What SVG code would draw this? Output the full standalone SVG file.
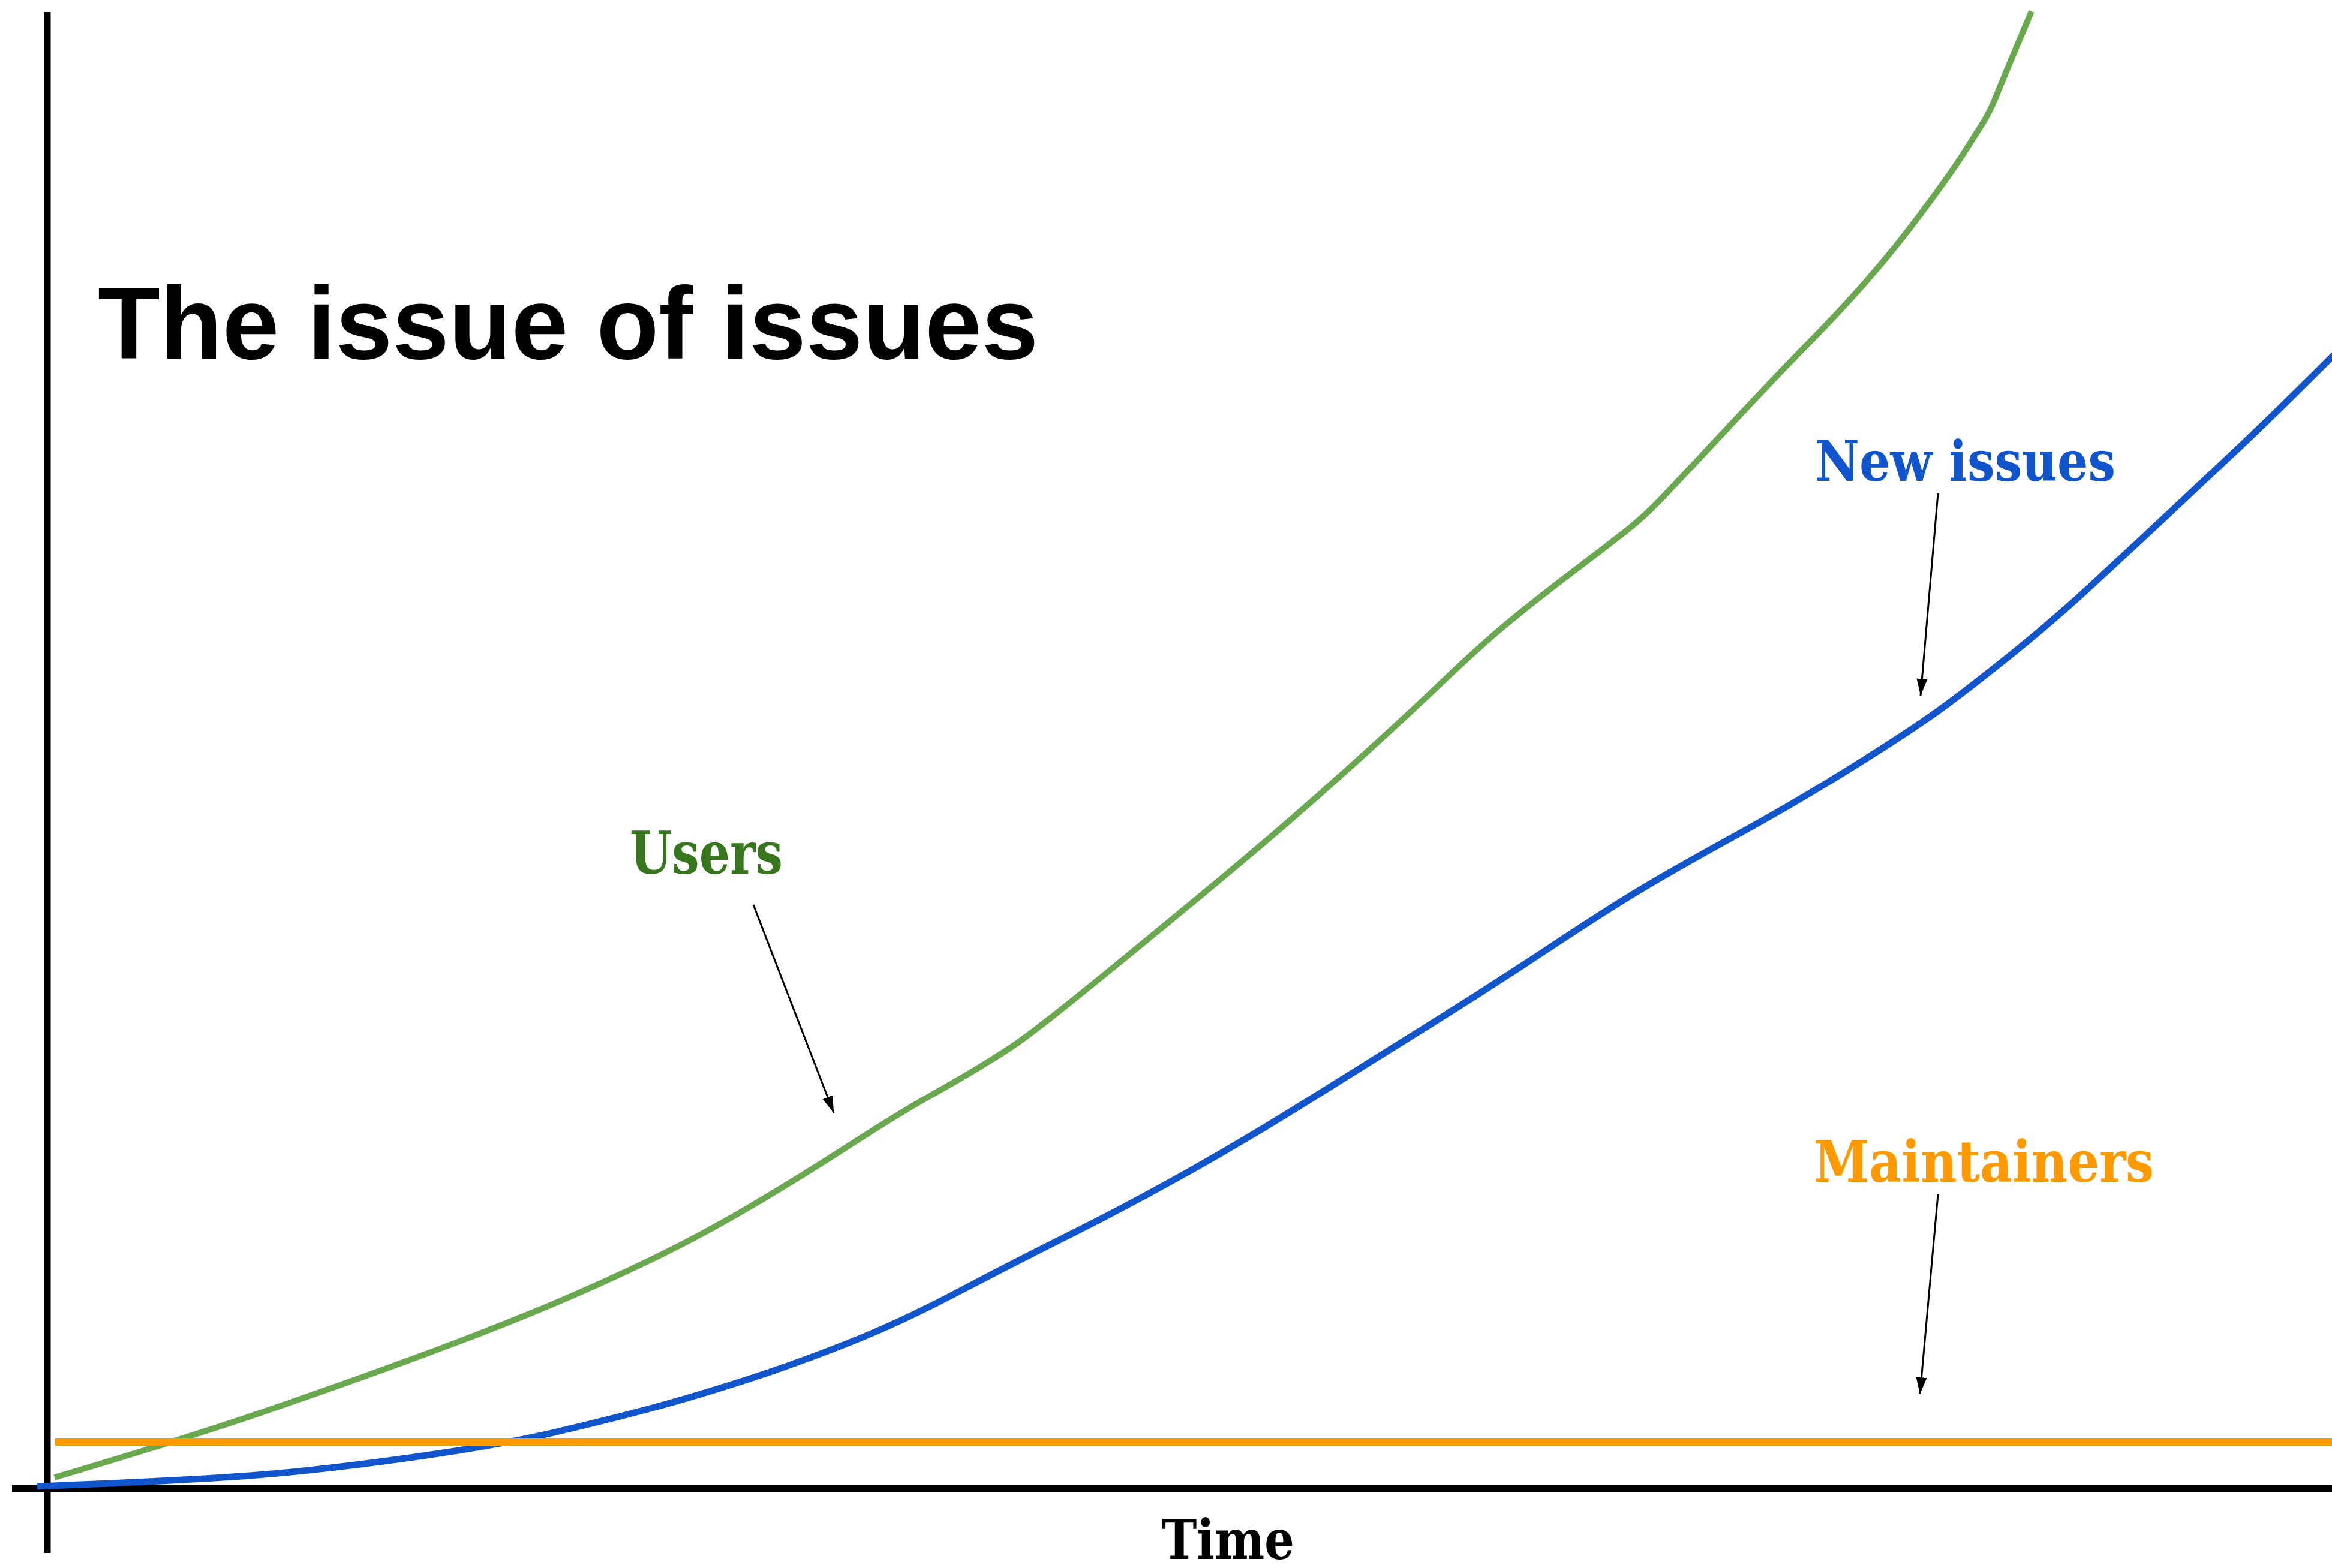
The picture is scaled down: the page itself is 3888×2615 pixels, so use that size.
<svg xmlns="http://www.w3.org/2000/svg" width="3888" height="2615" viewBox="0 0 3888 2615">
<defs>
<style>
.axis{stroke:#000;stroke-width:11;fill:none}
.series{fill:none;stroke-linejoin:round}
.lbl{font-family:"DejaVu Serif","Liberation Serif",serif;font-weight:bold}
.title{font-family:"Liberation Sans",Arial,sans-serif;font-weight:bold}
.conn{stroke:#000;stroke-width:3;fill:none}
</style>
<marker id="ah" markerUnits="userSpaceOnUse" markerWidth="30" markerHeight="20" refX="28" refY="9" orient="auto">
<path d="M0,0 L28,9 L0,18 Z" fill="#000"/>
</marker>
</defs>
<rect x="0" y="0" width="3888" height="2615" fill="#fff"/>
<g id="axes">
<line class="axis" x1="79" y1="20" x2="79" y2="2590"/>
<line class="axis" x1="20" y1="2482" x2="3888" y2="2482" style="stroke-width:12"/>
</g>
<g id="users-curve">
<path class="series" stroke="#6aa84f" stroke-width="10" d="M91,2464 Q316,2397 445,2352.5 Q574,2308 679,2269.5 Q784,2231 870.5,2196 Q957,2161 1052.5,2116.5 Q1148,2072 1234,2022 Q1320,1972 1410,1914 Q1500,1856 1550,1828 Q1600,1800 1636,1778 Q1672,1756 1691,1743 Q1710,1730 1748.5,1700 Q1787,1670 1872,1600.5 Q1957,1531 2052.5,1451.5 Q2148,1372 2243.5,1286 Q2339,1200 2404.5,1137.5 Q2470,1075 2515.5,1037.5 Q2561,1000 2623,953 Q2685,906 2713.5,883.5 Q2742,861 2771,830.5 Q2800,800 2884.5,709.5 Q2969,619 3016.5,571 Q3064,523 3111.5,469 Q3159,415 3206.5,351 Q3254,287 3272,258.5 Q3290,230 3304,208 Q3318,186 3329,158 Q3340,130 3387,19"/>
</g>
<g id="issues-curve">
<path class="series" stroke="#1155cc" stroke-width="11" d="M62,2479 Q344,2468 459,2457.5 Q574,2447 708,2427.5 Q842,2408 923.5,2389 Q1005,2370 1076.5,2351 Q1148,2332 1234,2304.5 Q1320,2277 1410,2241.5 Q1500,2206 1593,2157 Q1686,2108 1785,2058.5 Q1884,2009 1983.5,1953 Q2083,1897 2182,1835 Q2281,1773 2380.5,1711 Q2480,1649 2579,1583.5 Q2678,1518 2734.5,1484 Q2791,1450 2895.5,1392.5 Q3000,1335 3099.5,1272.5 Q3199,1210 3248.5,1173 Q3298,1136 3360,1086 Q3422,1036 3484,979 Q3546,922 3608,864 Q3670,806 3732,747.5 Q3794,689 3900,583"/>
</g>
<g id="maintainers-line">
<line x1="92" y1="2405" x2="3888" y2="2405" stroke="#ff9900" stroke-width="12"/>
</g>
<g id="title">
<text class="title" x="163" y="598" font-size="170" fill="#000">The issue of issues</text>
</g>
<g id="label-users">
<text class="lbl" x="1050" y="1457" font-size="98" fill="#38761d" textLength="255" lengthAdjust="spacingAndGlyphs">Users</text>
</g>
<g id="label-new-issues">
<text class="lbl" x="3026" y="802" font-size="94" fill="#1155cc" textLength="501" lengthAdjust="spacingAndGlyphs">New issues</text>
</g>
<g id="label-maintainers">
<text class="lbl" x="3024" y="1971" font-size="96" fill="#ff9900" textLength="567" lengthAdjust="spacingAndGlyphs">Maintainers</text>
</g>
<g id="label-time">
<text class="lbl" x="1937" y="2600" font-size="92" fill="#000" textLength="221" lengthAdjust="spacingAndGlyphs">Time</text>
</g>
<g id="connectors">
<line class="conn" x1="1256" y1="1509" x2="1390" y2="1856" marker-end="url(#ah)"/>
<line class="conn" x1="3231" y1="823" x2="3202" y2="1160" marker-end="url(#ah)"/>
<line class="conn" x1="3231" y1="1992" x2="3201" y2="2325" marker-end="url(#ah)"/>
</g>
</svg>
